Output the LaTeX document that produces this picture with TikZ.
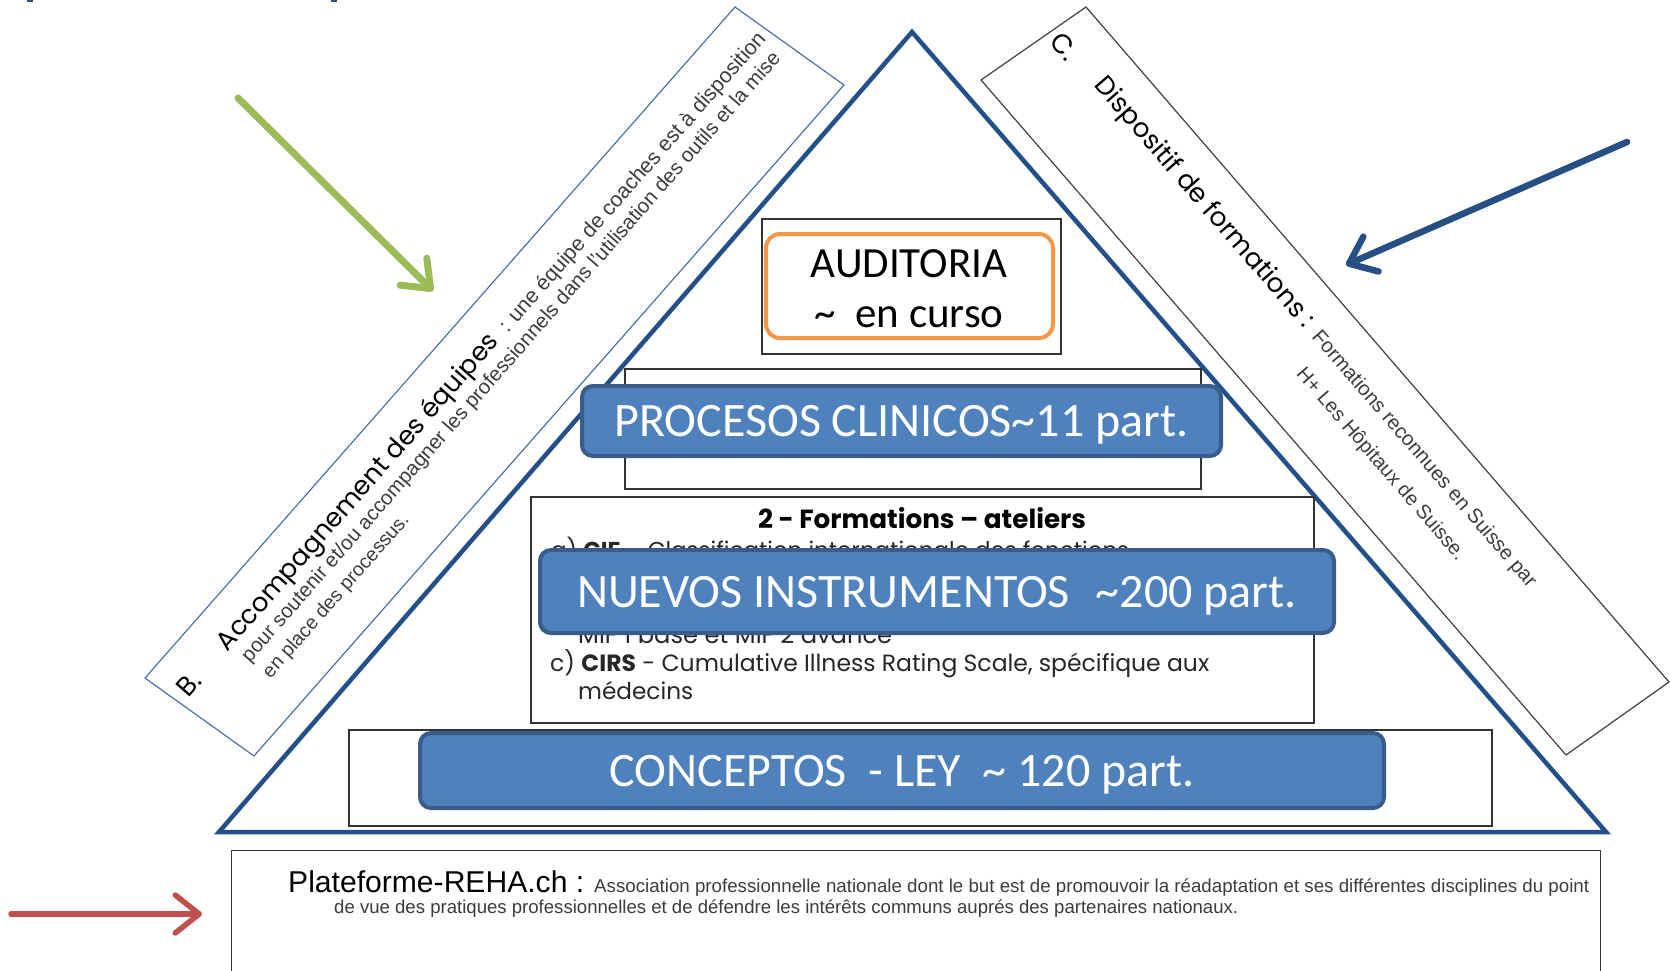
\documentclass[tikz,border=0pt]{standalone}
\usepackage{graphicx}
\usepackage{fontspec}
\setmainfont{Carlito}
\newfontfamily\geo{Poppins}
\newfontfamily\ari{Liberation Sans}
\usetikzlibrary{arrows.meta}
\newcommand{\fw}[2]{\resizebox{#1}{!}{#2}}
\definecolor{triblue}{HTML}{24508A}
\definecolor{boxblue}{HTML}{4A72A8}
\definecolor{bluefill}{HTML}{4F81BD}
\definecolor{bluedark}{HTML}{385D8A}
\definecolor{orangeb}{HTML}{F79646}
\definecolor{greenarr}{HTML}{9BBB59}
\definecolor{bluearr}{HTML}{254F85}
\definecolor{redarr}{HTML}{C0504D}
\definecolor{txtgray}{HTML}{3C3C3C}
\begin{document}
\begin{tikzpicture}[x=1pt,y=-1pt,
  tri/.style={draw=triblue, line width=4.5pt, line join=miter},
  thinbox/.style={draw=black!80, line width=1.2pt, fill=white, inner sep=0pt},
  bluebox/.style={draw=bluedark, fill=bluefill, line width=4pt, rounded corners=11pt, inner sep=0pt},
  bluetxt/.style={text=white, font=\fontsize{48}{57}\selectfont, text height=31pt, text depth=0pt},
  txt/.style={inner sep=0pt, anchor=base west},
  arrowline/.style={line width=#1, line cap=round, -{Straight Barb[round, length=24pt, width=38pt]}}
]
\useasboundingbox (0,0) rectangle (1670,971);
\fill[white] (0,0) rectangle (1670,971);

% tiny marks at top
\fill[triblue] (27,0) rectangle (33,2.5);
\fill[triblue] (331,0) rectangle (337,2.5);

% triangle
\coordinate (apex) at (912,32);
\coordinate (bl) at (219,832);
\coordinate (br) at (1606,832);
\draw[tri] (apex) -- (br) -- (bl) -- cycle;

% left tilted box B
\draw[draw=boxblue, line width=1.2pt] (145,678) -- (254,756) -- (844,85) -- (735,7) -- cycle;
\begin{scope}[shift={(145,678)}, rotate=48.67, transform shape]
  \node (bB) at (24,37) {\geo\fontsize{27}{30}\selectfont B.};
  \node[txt] (accbig) at (74,45) {\fw{412pt}{\geo Accompagnement des équipes}};
  \node[txt, text=txtgray] (accsmall) at (498,45) {\fw{392pt}{\ari : une équipe de coaches est à disposition}};
  \node[txt, text=txtgray] (accl2) at (80,69) {\fw{805pt}{\ari pour soutenir et/ou accompagner les professionnels dans l’utilisation des outils et la mise}};
  \node[txt, text=txtgray] (accl3) at (82,95) {\fw{211pt}{\ari en place des processus.}};
\end{scope}

% right tilted box C
\draw[draw=black!75, line width=1.2pt] (1086,7) -- (1669,682) -- (1566,755) -- (981,80) -- cycle;
\begin{scope}[shift={(1086,7)}, rotate=-49.13, transform shape]
  \node (cC) at (16,42) {\geo\fontsize{27}{30}\selectfont C.};
  \node[txt] (dispbig) at (64,46) {\fw{322pt}{\geo Dispositif de formations :}};
  \node[txt, text=txtgray] (dispsmall) at (397,46) {\fw{332pt}{\ari Formations reconnues en Suisse par}};
  \node[txt, text=txtgray] (displ2) at (415,82) {\fw{247pt}{\ari H+ Les Hôpitaux de Suisse.}};
\end{scope}

% AUDITORIA
\node[thinbox, minimum width=299pt, minimum height=135pt] (audout) at (911.5,286.5) {};
\node[draw=orangeb, line width=4pt, rounded corners=14pt, minimum width=287pt, minimum height=104pt] (aud) at (909.5,286) {};
\node[anchor=base, inner sep=0pt, font=\fontsize{43}{50}\selectfont] (audt1) at (909,277) {AUDITORIA};
\node[anchor=base, inner sep=0pt, font=\fontsize{43}{50}\selectfont] (audt2) at (909,327) {\textasciitilde\ \ en curso};

% PROCESOS
\node[thinbox, minimum width=576pt, minimum height=120pt] (procback) at (913,429) {};
\node[bluebox, bluetxt, minimum width=639pt, minimum height=70pt] (proc) at (901.5,421) {PROCESOS CLINICOS\textasciitilde11 part.};

% Formations box
\node[thinbox, minimum width=783pt, minimum height=226pt] (formbox) at (922.5,610) {};
\node[anchor=base, inner sep=0pt] (ftitle) at (922,528) {\fw{328pt}{\geo\bfseries 2 - Formations – ateliers}};
\node[txt, text=black!85] (fcif) at (551,558) {\fw{578pt}{\geo a) \textbf{CIF} – Classification internationale des fonctions}};
\node[txt, text=black!85] (fmif) at (578,643) {\fw{314pt}{\geo MIF 1 base et MIF 2 avancé}};
\node[txt, text=black!85] (fcirs) at (550,671) {\fw{659pt}{\geo c) \textbf{CIRS} - Cumulative Illness Rating Scale, spécifique aux}};
\node[txt, text=black!85] (fmed) at (578,699) {\fw{115pt}{\geo médecins}};
\node[bluebox, bluetxt, minimum width=794pt, minimum height=83pt] (nuevos) at (937,591.5) {NUEVOS INSTRUMENTOS\hspace{26pt}\textasciitilde200 part.};

% CONCEPTOS
\node[thinbox, minimum width=1143pt, minimum height=96pt] (concback) at (920.5,778) {};
\node[bluebox, bluetxt, minimum width=964pt, minimum height=75pt] (conc) at (902,770.5) {CONCEPTOS\ \ - LEY\ \ \textasciitilde\ 120 part.};

% bottom box
\node[thinbox, minimum width=1369pt, minimum height=160pt, anchor=north west] (reha) at (231,850) {};
\node[txt] (rehat) at (288,892) {\fw{296pt}{\ari Plateforme-REHA.ch :}};
\node[txt, text=txtgray] (rehad1) at (594,892) {\fw{995pt}{\ari Association professionnelle nationale dont le but est de promouvoir la réadaptation et ses différentes disciplines du point}};
\node[txt, text=txtgray] (rehad2) at (334,913) {\fw{904pt}{\ari de vue des pratiques professionnelles et de défendre les intérêts communs auprés des partenaires nationaux.}};

% arrows
\coordinate (gs) at (238,98);
\coordinate (ge) at (433,291);
\draw[arrowline=7pt, draw=greenarr] (gs) -- (ge);
\coordinate (bs) at (1627,142);
\coordinate (be) at (1346,265);
\draw[arrowline=6.5pt, draw=bluearr] (bs) -- (be);
\coordinate (rs) at (11,914);
\coordinate (re) at (202,914);
\draw[arrowline=5.5pt, draw=redarr] (rs) -- (re);
\end{tikzpicture}
\end{document}
